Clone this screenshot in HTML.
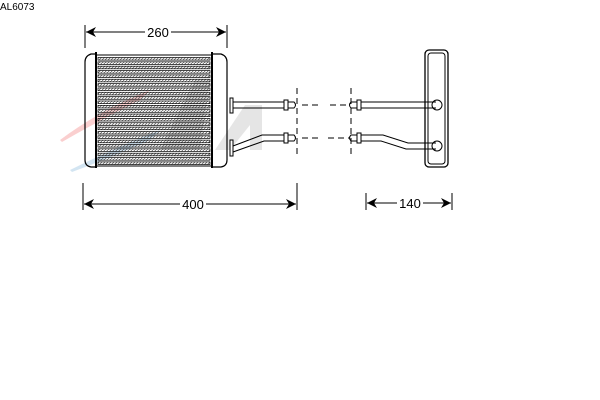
<!DOCTYPE html>
<html><head><style>
html,body{margin:0;padding:0;background:#fff;}
svg{display:block;}
text{font-family:"Liberation Sans",sans-serif;}
</style></head><body>
<svg width="600" height="400" viewBox="0 0 600 400" xmlns="http://www.w3.org/2000/svg">
<defs>
<pattern id="h" width="3" height="3" patternUnits="userSpaceOnUse">
<path d="M0,3 L3,0" stroke="#666" stroke-width="0.8"/>
</pattern>
</defs>
<text x="0" y="10" font-size="10" fill="#000">AL6073</text>
<!-- faint logo -->
<g opacity="0.25">
<path d="M60,140 Q100,110 150,90 L140,100 Q100,120 62,142Z" fill="#e44"/>
<path d="M70,170 Q110,150 160,130 L150,140 Q110,158 72,172Z" fill="#59c"/>
<path d="M160,150 L195,80 L210,80 L200,150Z" fill="#999"/>
<path d="M215,150 L245,105 L262,105 L262,150 L250,150 L250,125 L230,150Z" fill="#999"/>
</g>
<g fill="none" stroke="#000" stroke-width="1">
<line x1="85" y1="25" x2="85" y2="48"/><line x1="227" y1="25" x2="227" y2="48"/>
<line x1="86" y1="32" x2="145" y2="32"/><line x1="171" y1="32" x2="226" y2="32"/>
<line x1="83" y1="183" x2="83" y2="210"/><line x1="297" y1="183" x2="297" y2="210"/>
<line x1="84" y1="204" x2="180" y2="204"/><line x1="206" y1="204" x2="296" y2="204"/>
<line x1="366" y1="193" x2="366" y2="210"/><line x1="452" y1="193" x2="452" y2="210"/>
<line x1="367" y1="203" x2="397" y2="203"/><line x1="423" y1="203" x2="451" y2="203"/>
<path d="M95,54 L91,54 Q85,56 85,62 L85,160 Q85,166 91,167 L95,167" stroke-width="1.2"/>
<rect x="95" y="52" width="2" height="116" fill="#000" stroke="none"/>
<rect x="211" y="52" width="2" height="116" fill="#000" stroke="none"/>
<path d="M213,54 L221,54 Q227,56 227,62 L227,160 Q227,166 221,167 L213,167" stroke-width="1.2"/>
<line x1="97" y1="55" x2="211" y2="55"/><line x1="97" y1="166" x2="211" y2="166"/>
</g>
<g fill="url(#h)" stroke="#000" stroke-width="0.7">
<rect x="98" y="57.5" width="112" height="2.6"/>
<rect x="98" y="61.85" width="112" height="2.6"/>
<rect x="98" y="66.2" width="112" height="2.6"/>
<rect x="98" y="70.55" width="112" height="2.6"/>
<rect x="98" y="74.9" width="112" height="2.6"/>
<rect x="98" y="79.25" width="112" height="2.6"/>
<rect x="98" y="83.6" width="112" height="2.6"/>
<rect x="98" y="87.95" width="112" height="2.6"/>
<rect x="98" y="92.3" width="112" height="2.6"/>
<rect x="98" y="96.65" width="112" height="2.6"/>
<rect x="98" y="101" width="112" height="2.6"/>
<rect x="98" y="105.35" width="112" height="2.6"/>
<rect x="98" y="109.7" width="112" height="2.6"/>
<rect x="98" y="114.05" width="112" height="2.6"/>
<rect x="98" y="118.4" width="112" height="2.6"/>
<rect x="98" y="122.75" width="112" height="2.6"/>
<rect x="98" y="127.1" width="112" height="2.6"/>
<rect x="98" y="131.45" width="112" height="2.6"/>
<rect x="98" y="135.8" width="112" height="2.6"/>
<rect x="98" y="140.15" width="112" height="2.6"/>
<rect x="98" y="144.5" width="112" height="2.6"/>
<rect x="98" y="148.85" width="112" height="2.6"/>
<rect x="98" y="153.2" width="112" height="2.6"/>
<rect x="98" y="157.55" width="112" height="2.6"/>
<rect x="98" y="161.9" width="112" height="2.6"/>
</g>
<g fill="none" stroke="#000" stroke-width="1">
<rect x="230" y="98" width="3" height="15" fill="#fff"/>
<line x1="233" y1="102" x2="285" y2="102"/><line x1="233" y1="108" x2="285" y2="108"/>
<rect x="284" y="100" width="4" height="10" fill="#fff"/>
<path d="M288,102 L294,102 Q297,105 294,108 L288,108"/>
<rect x="230" y="140" width="3" height="16" fill="#fff"/>
<path d="M233,146 L262,135 L285,135"/><path d="M233,152 L264,141 L285,141"/>
<rect x="284" y="133" width="4" height="10" fill="#fff"/>
<path d="M288,135 L294,135 Q297,138 294,141 L288,141"/>
<g stroke-dasharray="6,4">
<line x1="297" y1="88" x2="297" y2="158"/>
<line x1="351" y1="88" x2="351" y2="158"/>
<line x1="302" y1="105" x2="322" y2="105"/>
<line x1="302" y1="138" x2="322" y2="138"/>
<line x1="330" y1="105" x2="350" y2="105"/>
<line x1="328" y1="138" x2="350" y2="138"/>
</g>
<path d="M357,102 L351,102 Q348,105 351,108 L357,108"/>
<rect x="357" y="100" width="4" height="10" fill="#fff"/>
<line x1="361" y1="102" x2="436" y2="102"/><line x1="361" y1="108" x2="436" y2="108"/>
<path d="M357,135 L351,135 Q348,138 351,141 L357,141"/>
<rect x="357" y="133" width="4" height="10" fill="#fff"/>
<path d="M361,135 L383,135 L408,143 L436,143"/>
<path d="M361,141 L381,141 L406,149 L436,149"/>
<rect x="425" y="50" width="23" height="117" rx="4" stroke-width="1.3"/>
<rect x="428" y="53" width="17" height="111" rx="3"/>
<circle cx="437" cy="105" r="5" fill="#fff"/>
<circle cx="437" cy="146" r="5" fill="#fff"/>
<line x1="428" y1="102" x2="436" y2="102"/><line x1="428" y1="108" x2="436" y2="108"/>
<line x1="428" y1="143" x2="436" y2="143"/><line x1="428" y1="149" x2="436" y2="149"/>
</g>
<g fill="#000">
<path d="M86,32 L96,27 L93,32 L96,37Z"/><path d="M226,32 L216,27 L219,32 L216,37Z"/>
<path d="M84,204 L94,199 L91,204 L94,209Z"/><path d="M296,204 L286,199 L289,204 L286,209Z"/>
<path d="M367,203 L377,198 L374,203 L377,208Z"/><path d="M451,203 L441,198 L444,203 L441,208Z"/>
</g>
<text x="158" y="37" font-size="13" text-anchor="middle">260</text>
<text x="193" y="209" font-size="13" text-anchor="middle">400</text>
<text x="410" y="208" font-size="13" text-anchor="middle">140</text>
</svg>
</body></html>
